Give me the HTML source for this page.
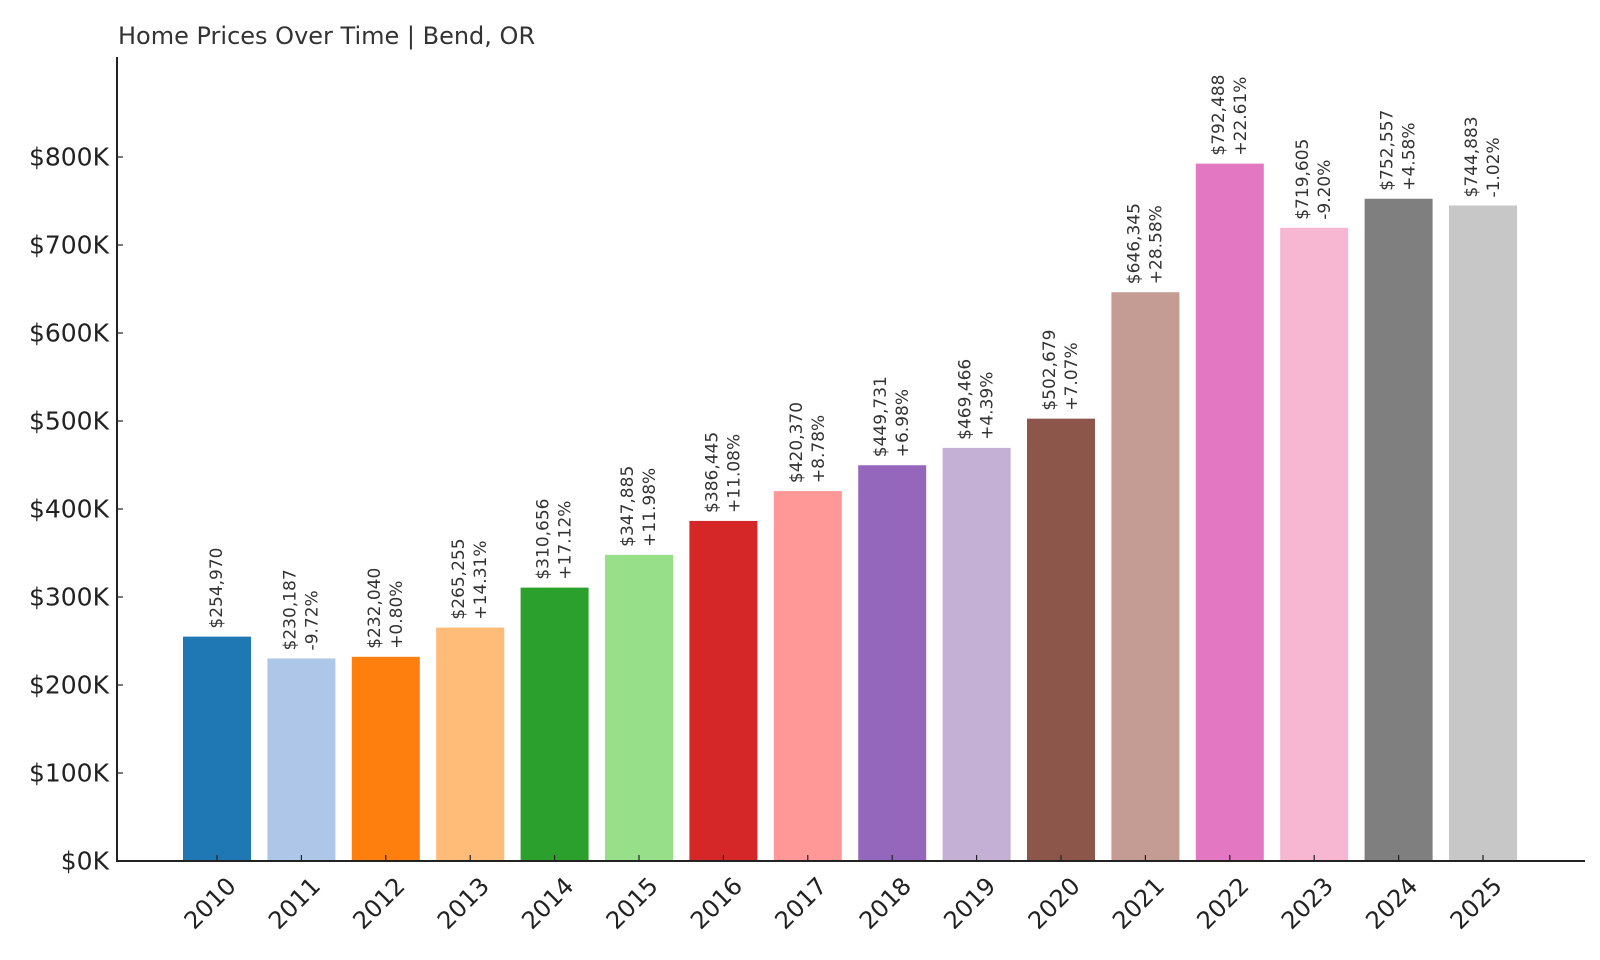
<!DOCTYPE html>
<html><head><meta charset="utf-8"><style>
body{margin:0;background:#fff}
svg{display:block;font-family:"DejaVu Sans","Liberation Sans",sans-serif}
</style></head><body>
<svg id="chart" width="1600" height="960" viewBox="0 0 1600 960" xmlns="http://www.w3.org/2000/svg">
<text x="118" y="44" font-size="24" fill="#333">Home Prices Over Time | Bend, OR</text>
<g id="plot"></g>
</svg>
<script>
const years=["2010","2011","2012","2013","2014","2015","2016","2017","2018","2019","2020","2021","2022","2023","2024","2025"];
const prices=[254970,230187,232040,265255,310656,347885,386445,420370,449731,469466,502679,646345,792488,719605,752557,744883];
const changes=["","-9.72%","+0.80%","+14.31%","+17.12%","+11.98%","+11.08%","+8.78%","+6.98%","+4.39%","+7.07%","+28.58%","+22.61%","-9.20%","+4.58%","-1.02%"];
const yTicks=[0,100000,200000,300000,400000,500000,600000,700000,800000];
const yTickLabels=["$0K","$100K","$200K","$300K","$400K","$500K","$600K","$700K","$800K"];
const colors=["#1f77b4","#aec7e8","#ff7f0e","#ffbb78","#2ca02c","#98df8a","#d62728","#ff9896","#9467bd","#c5b0d5","#8c564b","#c49c94","#e377c2","#f7b6d2","#7f7f7f","#c7c7c7"];
const NS="http://www.w3.org/2000/svg";
const g=document.getElementById('plot');
const L=117,R=1585,B=861,T=57;
const pitch=84.4,x0=217,bw=68;
function xc(i){return x0+i*pitch;}
function ys(v){return B-v*0.00088;}
function mk(t,a){const e=document.createElementNS(NS,t);for(const k in a)e.setAttribute(k,a[k]);g.appendChild(e);return e;}
years.forEach((yr,i)=>{
  const r=mk('rect',{x:xc(i)-bw/2,y:ys(prices[i]),width:bw,height:B-ys(prices[i]),fill:colors[i]});
  
  
  const tk=mk('line',{x1:xc(i),x2:xc(i),y1:B,y2:B-6,stroke:'#222','stroke-width':1.2});
  
  
  const lab=mk('text',{x:xc(i)+8,y:B+14,'font-size':24,fill:'#222','text-anchor':'end','dominant-baseline':'hanging',transform:`rotate(-45 ${xc(i)+8} ${B+14})`});
  lab.textContent=yr;
  
  
  const top=ys(prices[i])-8;
  const val='$'+prices[i].toLocaleString('en-US');
  const lines=changes[i]?[[val,-11],[changes[i],11]]:[[val,0]];
  lines.forEach(([s,off])=>{
    const tx=xc(i)+off;
    const t=mk('text',{x:tx,y:top,'font-size':17,fill:'#333','dominant-baseline':'central',transform:`rotate(-90 ${tx} ${top})`});
    t.textContent=s;
    
    
  });
});
yTicks.forEach((v,i)=>{
  const y=ys(v);
  const tk=mk('line',{x1:L,x2:L+6,y1:y,y2:y,stroke:'#222','stroke-width':1.2});
  
  
  const t=mk('text',{x:L-8,y:y,'font-size':25,fill:'#222','text-anchor':'end','dominant-baseline':'central'});
  t.textContent=yTickLabels[i];
  
  
});
const ya=mk('line',{x1:L,x2:L,y1:T,y2:B,stroke:'#222','stroke-width':2});


const xa=mk('line',{x1:L-1,x2:R,y1:B,y2:B,stroke:'#222','stroke-width':2});


</script>
</body></html>
